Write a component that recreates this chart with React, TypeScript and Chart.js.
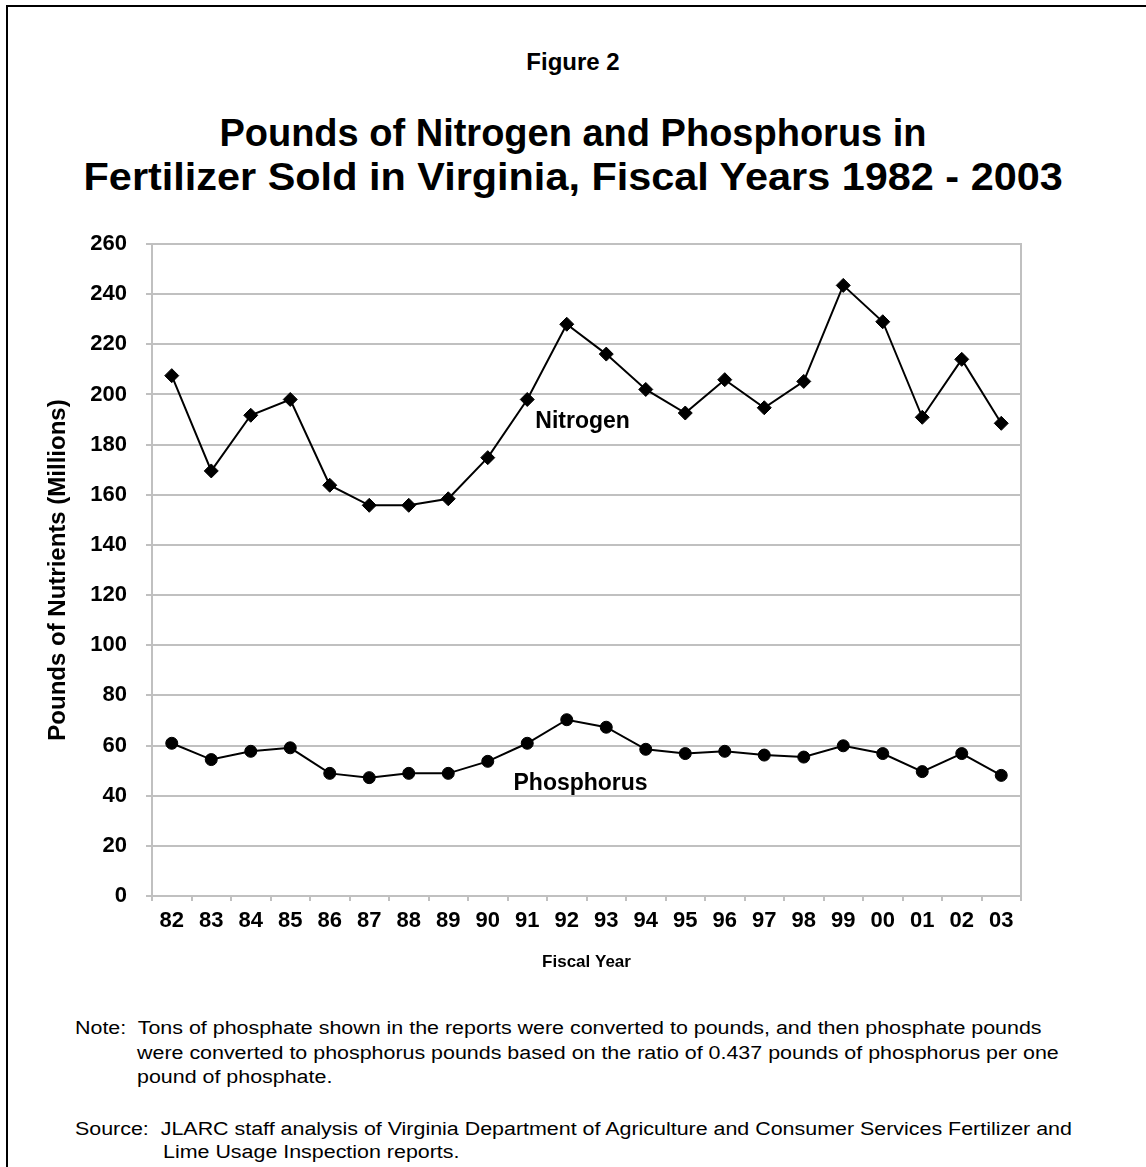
import React, { useEffect, useRef } from "react";
import { Chart, registerables } from "chart.js";

Chart.register(...registerables);

const years = ["82", "83", "84", "85", "86", "87", "88", "89", "90", "91", "92", "93", "94", "95", "96", "97", "98", "99", "00", "01", "02", "03"];
const nitrogen = [207.5, 169.5, 191.7, 198, 163.8, 155.8, 155.8, 158.4, 174.8, 198, 228, 216.1, 202, 192.6, 205.9, 194.7, 205.2, 243.5, 229, 190.9, 214, 188.5];
const phosphorus = [60.9, 54.4, 57.7, 59.1, 48.9, 47.2, 48.9, 48.9, 53.7, 60.9, 70.3, 67.3, 58.5, 56.8, 57.7, 56.2, 55.4, 59.9, 56.8, 49.6, 56.8, 48.1];
const yMin = 0;
const yMax = 260;
const yStep = 20;
const seriesNames = ["Nitrogen", "Phosphorus"];
const seriesLabelX = [10.4, 10.35];
const seriesLabelY = [189.2, 44.7];

const figureLabel = "Figure 2";
const titleLines = ["Pounds of Nitrogen and Phosphorus in", "Fertilizer Sold in Virginia, Fiscal Years 1982 - 2003"];
const yTitle = "Pounds of Nutrients (Millions)";
const xTitle = "Fiscal Year";
const noteLines = [
  "Note:  Tons of phosphate shown in the reports were converted to pounds, and then phosphate pounds",
  "were converted to phosphorus pounds based on the ratio of 0.437 pounds of phosphorus per one",
  "pound of phosphate.",
  "Source:  JLARC staff analysis of Virginia Department of Agriculture and Consumer Services Fertilizer and",
  "Lime Usage Inspection reports.",
];

const FONT = '"Liberation Sans", Arial, Helvetica, sans-serif';
const GRID = "#c0c0c0";

const labelPlugin = {
  id: "seriesLabels",
  beforeDatasetsDraw(chart: any) {
    const { ctx, chartArea } = chart;
    ctx.save();
    ctx.strokeStyle = GRID;
    ctx.lineWidth = 2;
    ctx.beginPath();
    ctx.moveTo(chartArea.right, chartArea.top - 1);
    ctx.lineTo(chartArea.right, chartArea.bottom);
    ctx.stroke();
    ctx.restore();
  },
  afterDatasetsDraw(chart: any) {
    const { ctx } = chart;
    const xs = chart.scales.x;
    const ys = chart.scales.y;
    ctx.save();
    ctx.fillStyle = "#000";
    ctx.font = `bold 23px ${FONT}`;
    ctx.textAlign = "center";
    ctx.textBaseline = "middle";
    seriesNames.forEach((name, i) => {
      ctx.fillText(name, xs.getPixelForValue(seriesLabelX[i]), ys.getPixelForValue(seriesLabelY[i]));
    });
    ctx.restore();
  },
};

function FigureChart() {
  const ref = useRef<HTMLCanvasElement | null>(null);
  useEffect(() => {
    if (!ref.current) return;
    const chart = new Chart(ref.current, {
      type: "line",
      data: {
        labels: years,
        datasets: [
          {
            label: seriesNames[0],
            data: nitrogen,
            borderColor: "#000",
            backgroundColor: "#000",
            borderWidth: 2,
            pointStyle: "rectRot",
            pointRadius: 7,
            pointBorderWidth: 1,
            tension: 0,
          },
          {
            label: seriesNames[1],
            data: phosphorus,
            borderColor: "#000",
            backgroundColor: "#000",
            borderWidth: 2,
            pointStyle: "circle",
            pointRadius: 6,
            pointBorderWidth: 1,
            tension: 0,
          },
        ],
      },
      options: {
        responsive: false,
        animation: false,
        devicePixelRatio: 1,
        layout: { padding: { top: 244, right: 125, left: 0, bottom: 0 } },
        plugins: {
          legend: { display: false },
          tooltip: { enabled: false },
          title: { display: false },
        },
        scales: {
          x: {
            type: "category",
            offset: true,
            afterFit: (s: any) => {
              s.height = 104;
            },
            grid: {
              drawOnChartArea: false,
              offset: true,
              color: GRID,
              lineWidth: 2,
              tickLength: 5,
            },
            border: { color: GRID, width: 2 },
            ticks: {
              color: "#000",
              font: { family: FONT, size: 22, weight: "bold" },
              padding: 7,
              maxRotation: 0,
              autoSkip: false,
            },
            title: {
              display: true,
              text: xTitle,
              color: "#000",
              font: { family: FONT, size: 17, weight: "bold" },
              padding: { top: 0, bottom: 27 },
            },
          },
          y: {
            min: yMin,
            max: yMax,
            afterFit: (s: any) => {
              s.width = 152;
            },
            grid: { color: GRID, lineWidth: 2, tickLength: 6 },
            border: { color: GRID, width: 2 },
            ticks: {
              stepSize: yStep,
              color: "#000",
              font: { family: FONT, size: 22, weight: "bold" },
              padding: 19,
            },
            title: {
              display: true,
              text: yTitle,
              color: "#000",
              font: { family: FONT, size: 24, weight: "bold" },
              padding: { top: 44, bottom: 0 },
            },
          },
        },
      },
      plugins: [labelPlugin],
    });
    return () => chart.destroy();
  }, []);
  return (
    <canvas
      ref={ref}
      width={1146}
      height={1000}
      style={{ position: "absolute", left: 0, top: 0, width: 1146, height: 1000 }}
    />
  );
}

const noteLayout = [
  { left: 75, center: 1028 },
  { left: 137, center: 1053 },
  { left: 137, center: 1077 },
  { left: 75, center: 1129 },
  { left: 163, center: 1152 },
];

const titleLayout = [
  { top: 111, stretch: 1.0 },
  { top: 155, stretch: 1.09 },
];

export default function App() {
  return (
    <div
      style={{
        position: "absolute",
        left: 0,
        top: 0,
        width: 1146,
        height: 1167,
        background: "#fff",
        overflow: "hidden",
        fontFamily: FONT,
        color: "#000",
      }}
    >
      <div
        style={{
          position: "absolute",
          left: 6,
          top: 5,
          width: 2000,
          height: 2000,
          borderLeft: "2px solid #000",
          borderTop: "2px solid #000",
        }}
      />
      <div
        style={{
          position: "absolute",
          left: 0,
          width: 1146,
          top: 47,
          lineHeight: "30px",
          fontSize: 24,
          fontWeight: "bold",
          textAlign: "center",
        }}
      >
        {figureLabel}
      </div>
      {titleLines.map((t, i) => (
        <div
          key={t}
          style={{
            position: "absolute",
            left: 0,
            width: 1146,
            top: titleLayout[i].top,
            lineHeight: "44px",
            fontSize: 38,
            fontWeight: "bold",
            textAlign: "center",
            whiteSpace: "nowrap",
            transform: `scaleX(${titleLayout[i].stretch})`,
            transformOrigin: "571px center",
          }}
        >
          {t}
        </div>
      ))}
      <FigureChart />
      {noteLines.map((t, i) => (
        <div
          key={t}
          style={{
            position: "absolute",
            left: noteLayout[i].left,
            top: noteLayout[i].center - 12,
            lineHeight: "24px",
            fontSize: 18,
            whiteSpace: "pre",
            transform: "scaleX(1.19)",
            transformOrigin: "left center",
          }}
        >
          {t}
        </div>
      ))}
    </div>
  );
}
